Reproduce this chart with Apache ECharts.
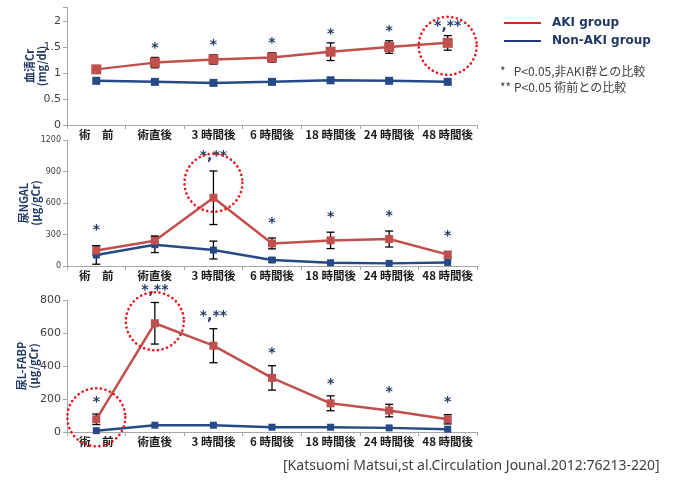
<!DOCTYPE html>
<html>
<head>
<meta charset="utf-8">
<script src="https://cdn.jsdelivr.net/npm/echarts@6/dist/echarts.min.js"></script>
<style>
  html, body { margin: 0; padding: 0; background: #fff; }
  #chart { width: 676px; height: 487px; }
</style>
</head>
<body>
<div id="chart"></div>
<script>
// time points
var categories = ['術　前', '術直後', '3 時間後', '6 時間後', '18 時間後', '24 時間後', '48 時間後'];

// 血清Cr (mg/dl)
var crAki = [1.07, 1.20, 1.26, 1.30, 1.41, 1.50, 1.58];
var crAkiErr = [0.06, 0.10, 0.09, 0.09, 0.17, 0.12, 0.14];
var crNon = [0.85, 0.83, 0.81, 0.83, 0.86, 0.85, 0.83];
var crNonErr = [0, 0, 0, 0, 0, 0, 0];
var crSig = ['', '*', '*', '*', '*', '*', '*,**'];
var crCircled = [6];
var crTicks = [0, 0.5, 1, 1.5, 2];

// 尿NGAL (μg/gCr)
var ngalAki = [148, 241, 650, 215, 244, 257, 108];
var ngalAkiErr = [45, 45, 255, 52, 78, 76, 30];
var ngalNon = [105, 203, 152, 57, 31, 25, 34];
var ngalNonErr = [88, 75, 85, 20, 0, 0, 0];
var ngalSig = ['*', '', '*,**', '*', '*', '*', '*'];
var ngalCircled = [2];
var ngalTicks = [0, 300, 600, 900, 1200];

// 尿L-FABP (μg/gCr)
var fabpAki = [77, 659, 523, 328, 174, 130, 77];
var fabpAkiErr = [32, 126, 103, 74, 45, 38, 28];
var fabpNon = [8, 41, 41, 29, 29, 25, 17];
var fabpNonErr = [0, 0, 0, 0, 0, 0, 0];
var fabpSig = ['*', '*,**', '*,**', '*', '*', '*', '*'];
var fabpCircled = [0, 1];
var fabpTicks = [0, 200, 400, 600, 800];

var AKI_COLOR = '#c0504d';
var NON_COLOR = '#254a86';
var NAVY = '#1f3864';

var chart = echarts.init(document.getElementById('chart'));

// panel layouts (pixels)
var panels = [
  { top: 7, height: 118, max: 2.27, interval: 0.5, ticks: crTicks, name: '血清Cr\n(mg/dl)', nameGap: 19, labelSize: 11,
    aki: crAki, akiErr: crAkiErr, non: crNon, nonErr: crNonErr, sig: crSig, circled: crCircled,
    akiSize: 10, nonSize: 8, starGap: 9, circleDy: 3 },
  { top: 140, height: 126, max: 1200, interval: 300, ticks: ngalTicks, name: '尿NGAL\n(μg/gCr)', nameGap: 25, labelSize: 8,
    aki: ngalAki, akiErr: ngalAkiErr, non: ngalNon, nonErr: ngalNonErr, sig: ngalSig, circled: ngalCircled,
    akiSize: 8, nonSize: 7, starGap: 15, circleDy: -15 },
  { top: 300, height: 132, max: 800, interval: 200, ticks: fabpTicks, name: '尿L-FABP\n(μg/gCr)', nameGap: 27, labelSize: 11,
    aki: fabpAki, akiErr: fabpAkiErr, non: fabpNon, nonErr: fabpNonErr, sig: fabpSig, circled: fabpCircled,
    akiSize: 8, nonSize: 7, starGap: 12, circleDy: -2 }
];

function errorBars(color) {
  return function (params, api) {
    var x = api.value(0), m = api.value(1), e = api.value(2);
    if (!e) return null;
    var hi = api.coord([x, m + e]);
    var lo = api.coord([x, m - e]);
    var w = 4;
    var st = { stroke: color, lineWidth: 1.3 };
    return {
      type: 'group',
      children: [
        { type: 'line', shape: { x1: hi[0], y1: hi[1], x2: lo[0], y2: lo[1] }, style: st },
        { type: 'line', shape: { x1: hi[0] - w, y1: hi[1], x2: hi[0] + w, y2: hi[1] }, style: st },
        { type: 'line', shape: { x1: lo[0] - w, y1: lo[1], x2: lo[0] + w, y2: lo[1] }, style: st }
      ]
    };
  };
}

function sigMarks(p) {
  return function (params, api) {
    var i = api.value(0), m = api.value(1), e = api.value(2);
    var txt = p.sig[i];
    var kids = [];
    var top = api.coord([i, m + e]);
    var mid = api.coord([i, m]);
    if (txt) {
      kids.push({
        type: 'text',
        style: {
          x: top[0], y: top[1] - p.starGap, text: txt, align: 'center', verticalAlign: 'middle',
          fill: NAVY, font: 'bold 14px "DejaVu Sans"'
        }
      });
    }
    if (p.circled.indexOf(i) >= 0) {
      kids.push({
        type: 'circle',
        shape: { cx: mid[0], cy: mid[1] + p.circleDy, r: 29 },
        style: { fill: null, stroke: '#e8141b', lineWidth: 2.6, lineDash: [0.1, 4.6], lineCap: 'round' }
      });
    }
    return { type: 'group', children: kids };
  };
}

var grids = [], xAxes = [], yAxes = [], series = [];
panels.forEach(function (p, k) {
  grids.push({ left: 67, right: 199, top: p.top, height: p.height });
  xAxes.push({
    type: 'category', gridIndex: k, data: categories, boundaryGap: true,
    axisLine: { lineStyle: { color: '#a6a6a6', width: 1 } },
    axisTick: { show: true, length: 4, lineStyle: { color: '#a6a6a6' } },
    axisLabel: { color: '#1a1a1a', fontSize: 11.5, fontWeight: 'bold', fontFamily: '"Noto Sans CJK JP"', margin: 4, interval: 0 }
  });
  yAxes.push({
    type: 'value', gridIndex: k, min: 0, max: p.max, interval: p.interval,
    name: p.name, nameLocation: 'middle', nameRotate: 90, nameGap: p.nameGap, nameMoveOverlap: false,
    nameTextStyle: { color: NAVY, fontSize: 11, fontWeight: 'bold', fontFamily: '"Noto Sans CJK JP"', lineHeight: 12 },
    axisLine: { show: true, lineStyle: { color: '#a6a6a6', width: 1 } },
    axisTick: { show: true, length: 4, lineStyle: { color: '#a6a6a6' } },
    splitLine: { show: false },
    axisLabel: {
      color: '#404040', fontSize: p.labelSize, fontFamily: '"DejaVu Sans"', margin: 6,
      formatter: function (v) { return p.ticks.indexOf(v) >= 0 ? String(v) : ''; }
    }
  });
  var akiData = p.aki.map(function (v, i) { return [i, v, p.akiErr[i]]; });
  var nonData = p.non.map(function (v, i) { return [i, v, p.nonErr[i]]; });
  series.push({
    type: 'custom', xAxisIndex: k, yAxisIndex: k, z: 1, silent: true,
    renderItem: errorBars('#000'), data: nonData
  });
  series.push({
    type: 'custom', xAxisIndex: k, yAxisIndex: k, z: 1, silent: true,
    renderItem: errorBars('#000'), data: akiData
  });
  series.push({
    name: 'Non-AKI group', type: 'line', xAxisIndex: k, yAxisIndex: k, z: 2,
    data: p.non, symbol: 'rect', symbolSize: p.nonSize,
    lineStyle: { color: NON_COLOR, width: 2.5 }, itemStyle: { color: NON_COLOR }
  });
  series.push({
    name: 'AKI group', type: 'line', xAxisIndex: k, yAxisIndex: k, z: 3,
    data: p.aki, symbol: 'rect', symbolSize: p.akiSize,
    lineStyle: { color: AKI_COLOR, width: 2.5 }, itemStyle: { color: AKI_COLOR }
  });
  series.push({
    type: 'custom', xAxisIndex: k, yAxisIndex: k, z: 4, silent: true,
    renderItem: sigMarks(p), data: akiData
  });
});

var option = {
  animation: false,
  backgroundColor: '#fff',
  grid: grids,
  xAxis: xAxes,
  yAxis: yAxes,
  legend: {
    orient: 'vertical', left: 499, top: 12, itemGap: 6,
    itemWidth: 37, itemHeight: 2, icon: 'rect',
    selectedMode: false,
    textStyle: { color: NAVY, fontSize: 12, fontWeight: 'bold', fontFamily: '"DejaVu Sans"', padding: [0, 0, 0, 6] },
    data: [
      { name: 'AKI group', itemStyle: { color: '#d42424' } },
      { name: 'Non-AKI group', itemStyle: { color: '#1f3c7a' } }
    ]
  },
  graphic: [
    { type: 'text', left: 500, top: 65, style: { text: '*   P<0.05,非AKI群との比較', fill: '#404040', font: '12px "Noto Sans CJK JP"' } },
    { type: 'text', left: 500, top: 81, style: { text: '** P<0.05 術前との比較', fill: '#404040', font: '12px "Noto Sans CJK JP"' } },
    { type: 'text', left: 283, top: 459, style: { text: '[Katsuomi Matsui,st al.Circulation Jounal.2012:76213-220]', fill: '#404040', font: '14px "Noto Sans"' } }
  ],
  series: series
};

chart.setOption(option);
</script>
</body>
</html>
